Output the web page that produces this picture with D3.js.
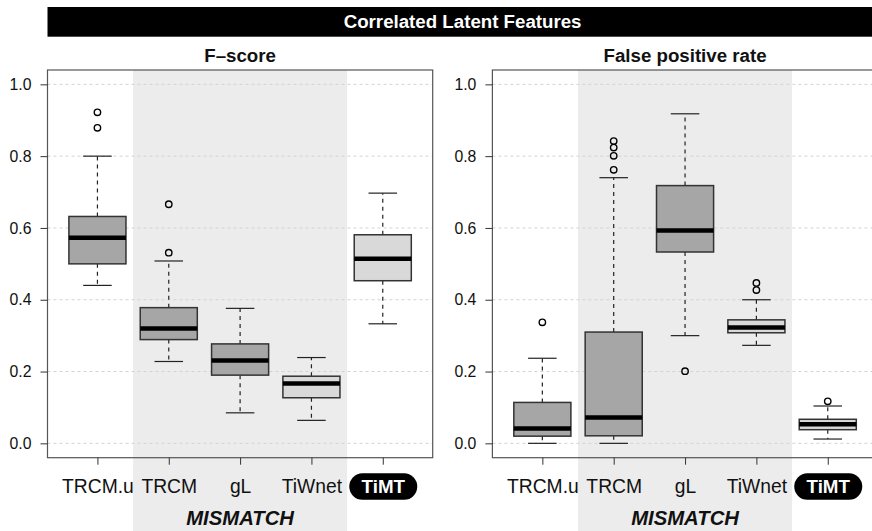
<!DOCTYPE html>
<html>
<head>
<meta charset="utf-8">
<script src="https://cdn.jsdelivr.net/npm/d3@7"></script>
<style>
  body { margin: 0; background: #fff; }
  svg text { font-family: "Liberation Sans", Arial, Helvetica, sans-serif; }
</style>
</head>
<body>
<svg width="872" height="531"></svg>
<script>
var methods = ["TRCM.u", "TRCM", "gL", "TiWnet", "TiMT"];
var mismatchGroup = ["TRCM", "gL", "TiWnet"];

// each box: [lower whisker, Q1, median, Q3, upper whisker]
var fscoreBoxes = [
  [0.440, 0.500, 0.573, 0.632, 0.800],
  [0.228, 0.289, 0.320, 0.378, 0.508],
  [0.085, 0.190, 0.231, 0.277, 0.376],
  [0.064, 0.127, 0.167, 0.187, 0.239],
  [0.333, 0.453, 0.514, 0.581, 0.697]
];
var fscoreOutliers = [[0.922, 0.879], [0.666, 0.531], [], [], []];

var fprBoxes = [
  [0.000, 0.020, 0.041, 0.114, 0.237],
  [0.000, 0.021, 0.072, 0.310, 0.740],
  [0.300, 0.533, 0.593, 0.718, 0.918],
  [0.273, 0.308, 0.323, 0.344, 0.400],
  [0.012, 0.038, 0.053, 0.067, 0.104]
];
var fprOutliers = [[0.337], [0.842, 0.824, 0.801, 0.762], [0.201], [0.447, 0.427], [0.117]];

var yTicks = [0, 0.2, 0.4, 0.6, 0.8, 1.0];
var mainTitle = "Correlated Latent Features";
var groupLabel = "MISMATCH";
var highlight = "TiMT";

var svg = d3.select("svg");
var W = 872, H = 531;
var plotTop = 70, plotBottom = 457.7;

var fill = d3.scaleOrdinal(methods, ["#a6a6a6", "#a6a6a6", "#a6a6a6", "#d9d9d9", "#d9d9d9"]);

// title bar across both panels
svg.append("rect")
  .attr("x", 47.5).attr("y", 7)
  .attr("width", 877.7 - 47.5).attr("height", 29.7)
  .attr("fill", "#000");
svg.append("text")
  .attr("x", (47.5 + 877.7) / 2).attr("y", 28.3)
  .attr("text-anchor", "middle")
  .attr("fill", "#fff")
  .attr("font-weight", "bold")
  .attr("font-size", 18.7)
  .text(mainTitle);

function drawPanel(left, right, title, boxes, outliers) {
  var x = d3.scaleLinear().domain([0.3, 5.7]).range([left, right]);
  var y = d3.scaleLinear().domain([-0.04, 1.04]).range([plotBottom, plotTop]);
  var bw = x(1.8) - x(1);   // box width 0.8
  var cw = x(1.4) - x(1);   // cap width 0.4
  var g = svg.append("g");

  // shaded MISMATCH band
  var i0 = methods.indexOf(mismatchGroup[0]) + 1;
  var i1 = methods.indexOf(mismatchGroup[mismatchGroup.length - 1]) + 1;
  g.append("rect")
    .attr("x", x(i0 - 0.5)).attr("y", plotTop)
    .attr("width", x(i1 + 0.5) - x(i0 - 0.5)).attr("height", H - plotTop)
    .attr("fill", "#ececec");

  // grid
  g.selectAll(".grid").data(yTicks).enter().append("line")
    .attr("x1", left).attr("x2", right)
    .attr("y1", function(d) { return y(d); })
    .attr("y2", function(d) { return y(d); })
    .attr("stroke", "#d2d2d2")
    .attr("stroke-dasharray", "3,3");

  var box = g.selectAll(".box").data(boxes).enter().append("g")
    .attr("transform", function(d, i) { return "translate(" + x(i + 1) + ",0)"; });

  // whiskers
  box.append("line")
    .attr("y1", function(d) { return y(d[3]); })
    .attr("y2", function(d) { return y(d[4]); })
    .attr("stroke", "#222").attr("stroke-width", 1.2).attr("stroke-dasharray", "4,4");
  box.append("line")
    .attr("y1", function(d) { return y(d[1]); })
    .attr("y2", function(d) { return y(d[0]); })
    .attr("stroke", "#222").attr("stroke-width", 1.2).attr("stroke-dasharray", "4,4");
  [0, 4].forEach(function(k) {
    box.append("line")
      .attr("x1", -cw / 2).attr("x2", cw / 2)
      .attr("y1", function(d) { return y(d[k]); })
      .attr("y2", function(d) { return y(d[k]); })
      .attr("stroke", "#222").attr("stroke-width", 1.2);
  });

  box.append("rect")
    .attr("x", -bw / 2).attr("width", bw)
    .attr("y", function(d) { return y(d[3]); })
    .attr("height", function(d) { return y(d[1]) - y(d[3]); })
    .attr("fill", function(d, i) { return fill(methods[i]); })
    .attr("stroke", "#333").attr("stroke-width", 1.5);

  box.append("line")
    .attr("x1", -bw / 2).attr("x2", bw / 2)
    .attr("y1", function(d) { return y(d[2]); })
    .attr("y2", function(d) { return y(d[2]); })
    .attr("stroke", "#000").attr("stroke-width", 4.5);

  box.each(function(d, i) {
    d3.select(this).selectAll("circle").data(outliers[i]).enter().append("circle")
      .attr("cy", function(v) { return y(v); })
      .attr("r", 3.2)
      .attr("fill", "none")
      .attr("stroke", "#000").attr("stroke-width", 1.4);
  });

  // frame
  g.append("rect")
    .attr("x", left).attr("y", plotTop)
    .attr("width", right - left).attr("height", plotBottom - plotTop)
    .attr("fill", "none").attr("stroke", "#555").attr("stroke-width", 1.2);

  // y axis
  var yAxis = g.append("g")
    .attr("transform", "translate(" + left + ",0)")
    .call(d3.axisLeft(y).tickValues(yTicks).tickFormat(d3.format(".1f")).tickSize(7).tickPadding(9));
  yAxis.select(".domain").remove();
  yAxis.selectAll("line").attr("stroke", "#333");
  yAxis.selectAll("text").attr("font-size", 15.8).attr("fill", "#111")
    .style("font-family", "'Liberation Sans', Arial, sans-serif");

  // x axis
  var xAxis = g.append("g")
    .attr("transform", "translate(0," + plotBottom + ")")
    .call(d3.axisBottom(x).tickValues([1, 2, 3, 4, 5])
      .tickFormat(function(d) { return methods[d - 1]; }).tickSize(7));
  xAxis.select(".domain").remove();
  xAxis.selectAll("line").attr("stroke", "#333");
  xAxis.selectAll("text")
    .attr("y", 35.6).attr("dy", 0)
    .attr("font-size", 19.3).attr("fill", "#111")
    .style("font-family", "'Liberation Sans', Arial, sans-serif");

  // pill behind highlighted method
  xAxis.selectAll(".tick").filter(function(d) { return methods[d - 1] === highlight; })
    .each(function() {
      var t = d3.select(this);
      t.insert("rect", "text")
        .attr("x", -34).attr("y", 15.6)
        .attr("width", 68).attr("height", 26.5)
        .attr("rx", 13.2).attr("ry", 13.2)
        .attr("fill", "#000");
      t.select("text").attr("fill", "#fff").attr("font-weight", "bold").attr("font-size", 18.8);
    });

  // group label
  g.append("text")
    .attr("x", (x(i0 - 0.5) + x(i1 + 0.5)) / 2).attr("y", 525)
    .attr("text-anchor", "middle")
    .attr("font-weight", "bold").attr("font-style", "italic")
    .attr("font-size", 20.3).attr("fill", "#111")
    .text(groupLabel);

  // panel title
  g.append("text")
    .attr("x", (left + right) / 2).attr("y", 62.3)
    .attr("text-anchor", "middle")
    .attr("font-weight", "bold").attr("font-size", 18.7).attr("fill", "#111")
    .text(title);
}

drawPanel(47.5, 432.7, "F\u2013score", fscoreBoxes, fscoreOutliers);
drawPanel(492.4, 877.7, "False positive rate", fprBoxes, fprOutliers);
</script>
</body>
</html>
